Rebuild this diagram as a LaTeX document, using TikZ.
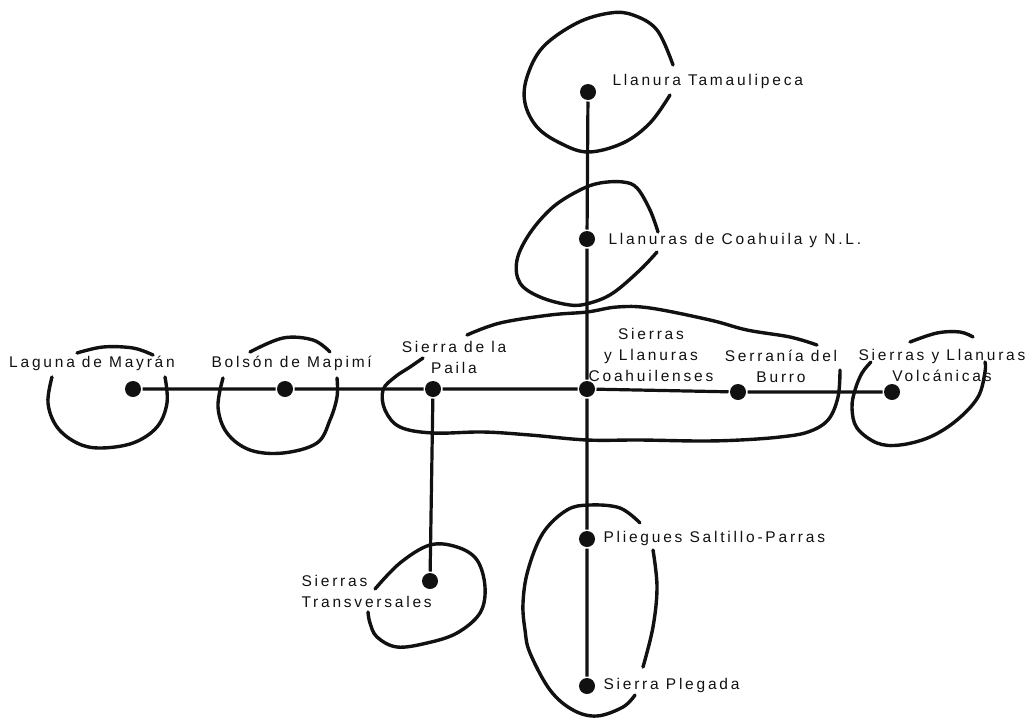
\documentclass[tikz,border=0pt]{standalone}
\usepackage{fontspec}
\setsansfont{Liberation Sans}[LetterSpace=18]
\usetikzlibrary{positioning}
\definecolor{cink}{HTML}{111111}
\tikzset{
  every picture/.style={font=\sffamily, line width=3pt},
  dot/.style={circle, fill=cink, inner sep=0pt, minimum size=16pt},
  link/.style={draw=cink, line width=3.2pt},
  ring/.style={draw=cink, line width=3.4pt, line cap=round, line join=round},
  lbl/.style={font=\sffamily\fontsize{15.5}{21}\selectfont, text=cink, inner sep=0pt},
}
\begin{document}
\begin{tikzpicture}[x=1pt, y=-1pt]
  \useasboundingbox (0,0) rectangle (1030,718);
  % dots
  \node[dot] (tamaulipeca) at (588,92) {};
  \node[dot] (coahuilanl) at (587,239) {};
  \node[dot] (coahuilenses) at (587,389) {};
  \node[dot] (laguna) at (133,389) {};
  \node[dot] (bolson) at (285,389) {};
  \node[dot] (paila) at (433,389) {};
  \node[dot] (burro) at (738,392) {};
  \node[dot] (volcanicas) at (892,392) {};
  \node[dot] (transversales) at (430,581) {};
  \node[dot] (saltillo) at (587,539) {};
  \node[dot] (plegada) at (587,686) {};
  % connectors
  \draw[link] (laguna) -- (bolson) -- (paila) -- (coahuilenses) -- (burro) -- (volcanicas);
  \draw[link] (tamaulipeca) -- (coahuilanl) -- (coahuilenses) -- (saltillo) -- (plegada);
  \draw[link] (paila) -- (transversales);
  % labels
  \node[lbl, anchor=west] (tamaulipecaL) at (611,81) {Llanura Tamaulipeca};
  \node[lbl, anchor=west] (coahuilanlL) at (607,240) {Llanuras de Coahuila y N.L.};
  \node[lbl] (lagunaL) at (92,363) {Laguna de Mayrán};
  \node[lbl, anchor=west] (bolsonL) at (210,363) {Bolsón de Mapimí};
  \node[lbl, align=center] (pailaL) at (454,357) {Sierra de la\\Paila};
  \node[lbl, align=center] (coahuilensesL) at (651,355) {Sierras\\y Llanuras\\Coahuilenses};
  \node[lbl, align=center] (burroL) at (781,366) {Serranía del\\Burro};
  \node[lbl, align=center] (volcanicasL) at (942,365) {Sierras y Llanuras\\Volcánicas};
  \node[lbl, align=left, anchor=west] (transversalesL) at (300,591) {Sierras\\Transversales};
  \node[lbl, anchor=west] (saltilloL) at (602,538) {Pliegues Saltillo-Parras};
  \node[lbl, anchor=west] (plegadaL) at (602,685) {Sierra Plegada};
  % hand-drawn regions
  \draw[ring] plot[smooth, tension=0.6] coordinates {(673,65) (657,30) (633,15) (610,13) (577,23) (543,47) (527,77) (525,103) (537,127) (560,143) (588,152) (623,143) (650,123) (670,95)};
  \draw[ring] plot[smooth, tension=0.6] coordinates {(658,232) (650,210) (637,188) (623,182) (600,183) (580,190) (553,207) (530,233) (517,260) (520,283) (540,297) (570,305) (590,303) (613,293) (640,270) (657,252)};
  \draw[ring] plot[smooth, tension=0.6] coordinates {(467,335) (500,323) (550,315) (587,312) (617,307) (650,308) (710,320) (747,330) (790,337) (817,345)};
  \draw[ring] plot[smooth, tension=0.6] coordinates {(840,370) (838,397) (828,420) (808,432) (780,437) (740,440) (700,441) (640,440) (587,440) (530,435) (483,432) (433,433) (400,427) (385,410) (383,390) (395,377) (410,367) (423,358)};
  \draw[ring] plot[smooth, tension=0.6] coordinates {(77,353) (103,347) (133,348) (153,355)};
  \draw[ring] plot[smooth, tension=0.6] coordinates {(52,377) (48,403) (57,427) (77,443) (100,448) (133,443) (157,427) (167,403) (165,377)};
  \draw[ring] plot[smooth, tension=0.6] coordinates {(250,352) (283,338) (313,340) (330,352)};
  \draw[ring] plot[smooth, tension=0.6] coordinates {(223,378) (218,407) (227,433) (250,450) (283,453) (317,443) (330,420) (337,397) (337,378)};
  \draw[ring] plot[smooth, tension=0.6] coordinates {(910,342) (937,333) (960,332) (973,337)};
  \draw[ring] plot[smooth, tension=0.6] coordinates {(871,362) (862,373) (855,390) (852,408) (857,428) (877,443) (900,445) (930,437) (957,420) (978,397) (985,372) (985,362)};
  \draw[ring] plot[smooth, tension=0.6] coordinates {(375,589) (400,563) (430,545) (457,547) (477,560) (485,587) (480,613) (457,633) (427,643) (397,647) (377,637) (370,623) (368,612)};
  \draw[ring] plot[smooth, tension=0.6] coordinates {(640,523) (620,508) (590,505) (567,510) (543,533) (528,570) (523,603) (525,630) (530,653) (550,690) (573,710) (597,716) (623,707) (635,695)};
  \draw[ring] plot[smooth, tension=0.6] coordinates {(653,550) (657,587) (653,627) (643,667)};
\end{tikzpicture}
\end{document}
